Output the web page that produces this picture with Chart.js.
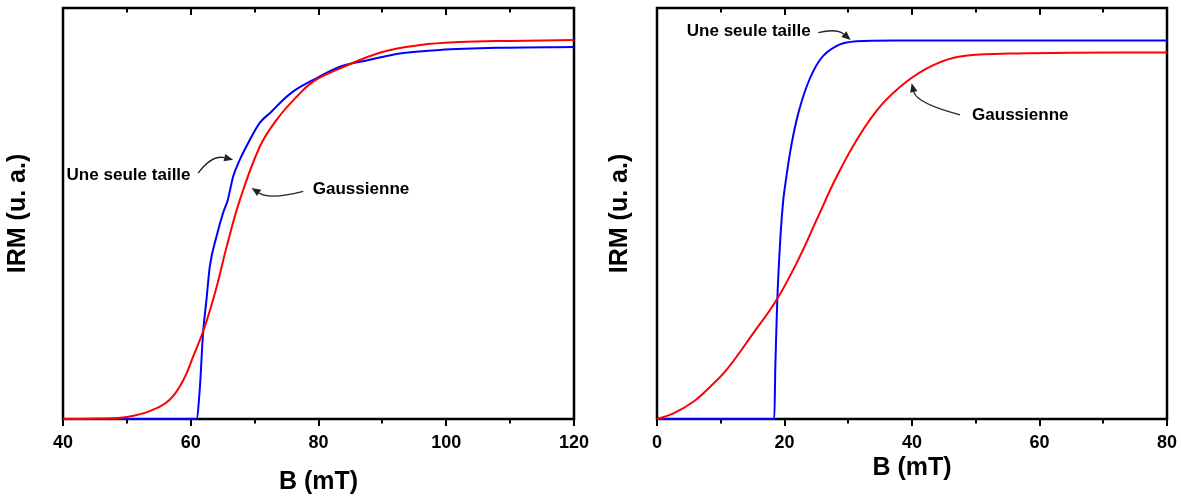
<!DOCTYPE html>
<html>
<head>
<meta charset="utf-8">
<script src="https://cdn.jsdelivr.net/npm/chart.js@4.4.1/dist/chart.umd.min.js"></script>
<style>
  html, body { margin: 0; padding: 0; background: #fff; }
  #wrap { position: relative; width: 1181px; height: 497px; }
  #left { position: absolute; left: 0; top: 0; }
  #right { position: absolute; left: 590px; top: 0; }
</style>
</head>
<body>
<div id="wrap">
  <canvas id="left" width="590" height="497"></canvas>
  <canvas id="right" width="591" height="497"></canvas>
</div>
<script>
// left panel: B from 40 to 120 mT
const leftBlueB   = [40, 60.9, 61.41, 61.93, 62.46, 62.98, 64.03, 65.07, 65.8, 66.64, 67.69, 69.25, 70.82, 72.66, 73.96, 76.05, 79.18, 83.37, 87.7, 93.0, 99.0, 108, 120];
const leftBlueIRM = [0, 0, 0.072, 0.210, 0.290, 0.371, 0.444, 0.502, 0.533, 0.590, 0.631, 0.679, 0.721, 0.748, 0.769, 0.797, 0.825, 0.857, 0.873, 0.890, 0.898, 0.903, 0.905];
const leftRedB    = [40, 46, 50, 53.57, 56.7, 58.79, 60.36, 62.2, 64.03, 65.6, 67.69, 70.82, 73.44, 76.58, 79.18, 83.37, 90, 96, 102, 110, 120];
const leftRedIRM  = [0, 0.001, 0.005, 0.019, 0.047, 0.093, 0.151, 0.225, 0.320, 0.418, 0.533, 0.663, 0.728, 0.784, 0.821, 0.853, 0.893, 0.910, 0.917, 0.920, 0.922];

// right panel: B from 0 to 80 mT
const rightBlueB   = [0, 18.4, 18.56, 18.71, 18.87, 19.4, 19.81, 20.08, 20.86, 21.91, 23.48, 25.57, 28.19, 31.33, 37.07, 80];
const rightBlueIRM = [0, 0, 0.128, 0.209, 0.290, 0.452, 0.533, 0.566, 0.647, 0.728, 0.809, 0.874, 0.908, 0.919, 0.921, 0.921];
const rightRedB    = [0, 2.5, 5.69, 8.3, 10.93, 15.11, 18.77, 22.43, 25.05, 28.19, 31.33, 34.98, 39.17, 43.35, 47.53, 55, 65, 80];
const rightRedIRM  = [0, 0.013, 0.042, 0.078, 0.120, 0.209, 0.290, 0.396, 0.485, 0.590, 0.679, 0.760, 0.821, 0.861, 0.882, 0.889, 0.891, 0.892];

const xTitle = 'B (mT)';
const yTitle = 'IRM (u. a.)';
const labelSingle = 'Une seule taille';
const labelGauss = 'Gaussienne';

const toPoints = (xs, ys) => xs.map((x, i) => ({ x: x, y: ys[i] }));

// box frame + tick marks (outward at bottom, inward at top)
const framePlugin = {
    id: 'frame',
    beforeDatasetsDraw(chart) {
        const { ctx, chartArea: a } = chart;
        const x = chart.scales.x;
        ctx.save();
        ctx.strokeStyle = '#000';
        ctx.lineWidth = 2.5;
        ctx.strokeRect(a.left, a.top, a.right - a.left, a.bottom - a.top);
        ctx.lineWidth = 2;
        const vals = x.ticks.map(t => t.value);
        const step = vals[1] - vals[0];
        const mark = (v, len) => {
            const px = Math.round(x.getPixelForValue(v));
            ctx.beginPath();
            ctx.moveTo(px, a.bottom);
            ctx.lineTo(px, a.bottom + len);
            ctx.moveTo(px, a.top);
            ctx.lineTo(px, a.top + len);
            ctx.stroke();
        };
        vals.forEach(v => {
            mark(v, 7);
            if (v + step / 2 < x.max) mark(v + step / 2, 4.5);
        });
        ctx.restore();
    }
};

// text labels and curved arrows, placed in data units
const notesPlugin = {
    id: 'notes',
    afterDatasetsDraw(chart, args, opts) {
        const { ctx } = chart;
        const sx = chart.scales.x, sy = chart.scales.y;
        const P = p => [sx.getPixelForValue(p[0]), sy.getPixelForValue(p[1])];
        ctx.save();
        ctx.fillStyle = '#000';
        ctx.font = 'bold 16px "Liberation Sans", Arial, sans-serif';
        ctx.textBaseline = 'middle';
        ctx.textAlign = 'left';
        (opts.texts || []).forEach(t => {
            const [px, py] = P([t.x, t.y]);
            ctx.save();
            ctx.translate(px, py);
            ctx.scale(1.065, 1);
            ctx.fillText(t.text, 0, 0);
            ctx.restore();
        });
        ctx.strokeStyle = '#222';
        ctx.fillStyle = '#222';
        ctx.lineWidth = 1.3;
        (opts.arrows || []).forEach(ar => {
            const s = P(ar.from), c = P(ar.ctrl), e = P(ar.to);
            const ang = Math.atan2(e[1] - c[1], e[0] - c[0]);
            const hl = 9, hw = 3.8;
            const bx = e[0] - Math.cos(ang) * hl, by = e[1] - Math.sin(ang) * hl;
            ctx.beginPath();
            ctx.moveTo(s[0], s[1]);
            ctx.quadraticCurveTo(c[0], c[1], bx, by);
            ctx.stroke();
            ctx.beginPath();
            ctx.moveTo(e[0], e[1]);
            ctx.lineTo(bx - Math.sin(ang) * hw, by + Math.cos(ang) * hw);
            ctx.lineTo(bx + Math.sin(ang) * hw, by - Math.cos(ang) * hw);
            ctx.closePath();
            ctx.fill();
        });
        ctx.restore();
    }
};

function makePanel(id, cfg) {
    const ctx = document.getElementById(id).getContext('2d');
    return new Chart(ctx, {
        type: 'line',
        data: {
            datasets: [
                {
                    label: 'Gaussienne',
                    data: toPoints(cfg.redB, cfg.redIRM),
                    borderColor: 'rgb(255, 0, 0)',
                    borderWidth: 2,
                    pointRadius: 0,
                    tension: 0.4,
                    clip: 4
                },
                {
                    label: 'Une seule taille',
                    data: toPoints(cfg.blueB, cfg.blueIRM),
                    borderColor: 'rgb(0, 0, 255)',
                    borderWidth: 2,
                    pointRadius: 0,
                    cubicInterpolationMode: 'monotone',
                    clip: 4
                }
            ]
        },
        options: {
            responsive: false,
            animation: false,
            devicePixelRatio: 1,
            layout: { padding: { top: 8, right: cfg.padRight, bottom: 0, left: 0 } },
            plugins: {
                legend: { display: false },
                tooltip: { enabled: false },
                notes: { texts: cfg.texts, arrows: cfg.arrows }
            },
            scales: {
                x: {
                    type: 'linear',
                    min: cfg.xMin,
                    max: cfg.xMax,
                    afterFit: s => { s.height = 78; s.paddingLeft = 0; s.paddingRight = 0; },
                    grid: { display: false, drawTicks: false },
                    border: { display: false },
                    ticks: {
                        stepSize: 20,
                        padding: 13.5,
                        color: '#000',
                        font: { family: '"Liberation Sans", Arial, sans-serif', size: 18, weight: 'bold' }
                    },
                    title: {
                        display: true,
                        text: xTitle,
                        color: '#000',
                        padding: { top: 0, bottom: cfg.xTitlePad },
                        font: { family: '"Liberation Sans", Arial, sans-serif', size: 25, weight: 'bold' }
                    }
                },
                y: {
                    type: 'linear',
                    min: 0,
                    max: 1,
                    afterFit: s => { s.width = cfg.yWidth; s.paddingTop = 0; s.paddingBottom = 0; },
                    grid: { display: false, drawTicks: false },
                    border: { display: false },
                    ticks: { display: false },
                    title: {
                        display: true,
                        text: yTitle,
                        color: '#000',
                        padding: { top: cfg.yTitlePad, bottom: 0 },
                        font: { family: '"Liberation Sans", Arial, sans-serif', size: 25, weight: 'bold' }
                    }
                }
            }
        },
        plugins: [framePlugin, notesPlugin]
    });
}

makePanel('left', {
    redB: leftRedB, redIRM: leftRedIRM, blueB: leftBlueB, blueIRM: leftBlueIRM,
    xMin: 40, xMax: 120, yWidth: 63, padRight: 16, xTitlePad: 0, yTitlePad: 3,
    texts: [
        { text: labelSingle, x: 40.55, y: 0.592 },
        { text: labelGauss, x: 79.09, y: 0.557 }
    ],
    arrows: [
        { from: [61.15, 0.598], ctrl: [63.3, 0.643], to: [66.64, 0.631] },
        { from: [77.62, 0.554], ctrl: [72.39, 0.533], to: [69.52, 0.562] }
    ]
});

makePanel('right', {
    redB: rightRedB, redIRM: rightRedIRM, blueB: rightBlueB, blueIRM: rightBlueIRM,
    xMin: 0, xMax: 80, yWidth: 67, padRight: 14, xTitlePad: 14, yTitlePad: 15,
    texts: [
        { text: labelSingle, x: 4.66, y: 0.942 },
        { text: labelGauss, x: 49.41, y: 0.738 }
    ],
    arrows: [
        { from: [25.3, 0.940], ctrl: [28.19, 0.951], to: [30.38, 0.922] },
        { from: [47.53, 0.740], ctrl: [40.73, 0.768], to: [39.95, 0.817] }
    ]
});
</script>
</body>
</html>
